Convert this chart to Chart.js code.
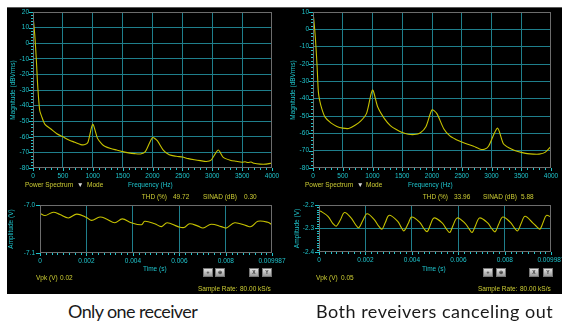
<!DOCTYPE html>
<html>
<head>
<meta charset="utf-8">
<script src="https://cdn.jsdelivr.net/npm/chart.js@4.4.1/dist/chart.umd.min.js"></script>
<style>
  html, body { margin: 0; padding: 0; background: #fff; }
  #page { position: relative; width: 562px; height: 324px; overflow: hidden; background: #fff; }
  #scope { position: absolute; left: 7px; top: 7px; width: 555px; height: 287px; background: #000; border-top: 1px solid #5a5a5a; box-sizing: border-box; }
  canvas { position: absolute; }
  .lbl { position: absolute; font-family: "Liberation Sans", Arial, sans-serif; font-size: 6.5px; line-height: 8px; white-space: nowrap; }
  .r { text-align: right; }
  .y { color: #cccc33; }
  .c { color: #1fc4cc; }
  .w { color: #d8d8d8; }
  .btn { position: absolute; width: 10px; height: 9px; background: linear-gradient(#e4e4e4, #9a9a9a); border: 1px solid #777; box-sizing: border-box;
         font: bold 5px "Liberation Sans", sans-serif; color: #333; text-align: center; line-height: 7px; }
  .cap { position: absolute; top: 300px; font-family: Lato, "Open Sans", sans-serif; font-size: 18px; color: #1a1a1a; white-space: nowrap; }
</style>
</head>
<body>
<div id="page">
  <div id="scope"></div>

  <canvas id="specL" width="275" height="176" style="left:7px;top:7px"></canvas>
  <canvas id="specR" width="275" height="176" style="left:287px;top:7px"></canvas>
  <canvas id="timeL" width="283" height="68" style="left:7px;top:198px"></canvas>
  <canvas id="timeR" width="275" height="68" style="left:287px;top:198px"></canvas>

  <!-- left panel texts -->
  <span class="lbl y" style="left:25px;top:181px">Power Spectrum</span>
  <span class="lbl w" style="left:77px;top:181px">&#9660;</span>
  <span class="lbl y" style="left:87px;top:181px">Mode</span>
  <span class="lbl c" style="left:128px;top:181px">Frequency (Hz)</span>
  <span class="lbl y r" style="left:128px;width:39px;top:193px">THD (%)</span>
  <span class="lbl y" style="left:173px;top:193px">49.72</span>
  <span class="lbl y" style="left:203px;top:193px">SINAD (dB)</span>
  <span class="lbl y" style="left:244px;top:193px">0.30</span>
  <span class="lbl c" style="left:143px;top:265px">Time (s)</span>
  <span class="lbl y" style="left:36px;top:274px">Vpk (V)</span>
  <span class="lbl y" style="left:60px;top:274px">0.02</span>
  <span class="lbl y" style="left:198px;top:285px">Sample Rate:</span>
  <span class="lbl y" style="left:240px;top:285px">80.00 kS/s</span>
  <div class="btn" style="left:203px;top:268px">+</div>
  <div class="btn" style="left:215px;top:268px">&#8853;</div>
  <div class="btn" style="left:249px;top:268px">X</div>
  <div class="btn" style="left:262px;top:268px">Y</div>

  <!-- right panel texts -->
  <span class="lbl y" style="left:305px;top:181px">Power Spectrum</span>
  <span class="lbl w" style="left:357px;top:181px">&#9660;</span>
  <span class="lbl y" style="left:366px;top:181px">Mode</span>
  <span class="lbl c" style="left:408px;top:181px">Frequency (Hz)</span>
  <span class="lbl y r" style="left:409px;width:39px;top:193px">THD (%)</span>
  <span class="lbl y" style="left:454px;top:193px">33.96</span>
  <span class="lbl y" style="left:483px;top:193px">SINAD (dB)</span>
  <span class="lbl y" style="left:521px;top:193px">5.88</span>
  <span class="lbl c" style="left:422px;top:265px">Time (s)</span>
  <span class="lbl y" style="left:316px;top:274px">Vpk (V)</span>
  <span class="lbl y" style="left:341px;top:274px">0.05</span>
  <span class="lbl y" style="left:478px;top:285px">Sample Rate:</span>
  <span class="lbl y" style="left:520px;top:285px">80.00 kS/s</span>
  <div class="btn" style="left:483px;top:268px">+</div>
  <div class="btn" style="left:496px;top:268px">&#8853;</div>
  <div class="btn" style="left:529px;top:268px">X</div>
  <div class="btn" style="left:543px;top:268px">Y</div>

  <span class="cap" style="left:68px;letter-spacing:-0.6px">Only one receiver</span>
  <span class="cap" style="left:316px;letter-spacing:0.5px">Both reveivers canceling out</span>
</div>

<script>
// spectrum, one receiver (Hz, dBVrms)
const freqL = [0, 30, 55, 80, 112, 150, 200, 300, 400, 500, 600, 700, 800, 870, 920, 1000, 1080, 1150, 1200, 1300, 1400, 1500, 1600, 1700, 1800, 1880, 2000, 2080, 2180, 2280, 2400, 2500, 2600, 2700, 2800, 2900, 2980, 3100, 3180, 3300, 3400, 3500, 3550, 3600, 3650, 3700, 3800, 3900, 4000];
const magL = [18, 5, -10, -28, -43, -47.5, -52, -55, -58, -60, -62, -63.5, -65, -65, -63.5, -52, -61, -64.5, -66, -67.5, -68.5, -69.5, -70.3, -70.8, -71, -69.5, -60.5, -62.5, -68.5, -71.5, -72.5, -73, -74, -74.7, -75.3, -75.8, -75, -68.5, -73, -75, -75.7, -76.3, -76, -76.5, -76.2, -77, -77.5, -77.5, -76.8];

// spectrum, both receivers
const freqR = [10, 40, 70, 90, 112, 150, 200, 300, 400, 500, 600, 700, 800, 900, 1000, 1090, 1200, 1300, 1400, 1500, 1600, 1700, 1800, 1900, 2000, 2080, 2200, 2300, 2400, 2500, 2600, 2700, 2800, 2880, 2950, 3100, 3200, 3300, 3400, 3500, 3600, 3700, 3800, 3900, 4000];
const magR = [7, -5, -22, -36, -41, -46, -50.5, -54, -56, -57, -57.2, -55.5, -53, -48.5, -35, -45, -51.5, -55.5, -57.8, -59.5, -60.5, -60.7, -59.8, -56, -46.5, -48.5, -57.5, -61.5, -63.5, -65, -66.3, -67.5, -69, -69.2, -67.5, -57, -66, -68.5, -70, -71, -71.7, -72, -72, -71, -67.5];

// time traces (s, V)
const timeL = [0, 0.000215, 0.000573, 0.000859, 0.00122, 0.00158, 0.00200, 0.00222, 0.00258, 0.00286, 0.00322, 0.00354, 0.00394, 0.00437, 0.00451, 0.00494, 0.00523, 0.00547, 0.00594, 0.00620, 0.00644, 0.00680, 0.00702, 0.00737, 0.00780, 0.00802, 0.00838, 0.00888, 0.00909, 0.00938, 0.00981, 0.00998];
const voltL = [-7.017, -7.022, -7.015, -7.020, -7.027, -7.019, -7.026, -7.032, -7.025, -7.029, -7.037, -7.029, -7.037, -7.041, -7.034, -7.039, -7.045, -7.037, -7.045, -7.047, -7.039, -7.044, -7.048, -7.040, -7.045, -7.048, -7.037, -7.043, -7.045, -7.034, -7.036, -7.041];

const timeR = [0, 0.0001, 0.000385, 0.0006, 0.000741, 0.000912, 0.0011, 0.00138, 0.00157, 0.00171, 0.00188, 0.00207, 0.00238, 0.00257, 0.00271, 0.00285, 0.00302, 0.00338, 0.00355, 0.00366, 0.00384, 0.00399, 0.00433, 0.00452, 0.00466, 0.00480, 0.00495, 0.00530, 0.00549, 0.00563, 0.00577, 0.00595, 0.00630, 0.00647, 0.00659, 0.00674, 0.00691, 0.00726, 0.00744, 0.00758, 0.00773, 0.00791, 0.00823, 0.00841, 0.00855, 0.00870, 0.00887, 0.00920, 0.00937, 0.00951, 0.00965, 0.00979, 0.00998];
const voltR = [-2.225, -2.228, -2.248, -2.279, -2.290, -2.265, -2.232, -2.255, -2.283, -2.297, -2.267, -2.237, -2.262, -2.290, -2.303, -2.276, -2.244, -2.269, -2.297, -2.310, -2.279, -2.251, -2.273, -2.301, -2.313, -2.283, -2.255, -2.276, -2.303, -2.317, -2.287, -2.255, -2.279, -2.303, -2.317, -2.287, -2.255, -2.276, -2.301, -2.314, -2.283, -2.251, -2.273, -2.297, -2.310, -2.279, -2.248, -2.276, -2.292, -2.303, -2.273, -2.244, -2.251];

// tick values
const freqTicks = [0, 500, 1000, 1500, 2000, 2500, 3000, 3500, 4000];
const magTicksL = [-80, -70, -60, -50, -40, -30, -20, -10, 0, 10, 20];
const magTicksR = [-80, -70, -60, -50, -40, -30, -20, -10, 0, 10];
const timeTicks = [0, 0.002, 0.004, 0.006, 0.008, 0.009987];
const timeTickLabels = ['0', '0.002', '0.004', '0.006', '0.008', '0.009987'];
const voltTicksL = [-7.1, -7.0];
const voltTicksR = [-2.4, -2.3, -2.2];

const CYAN = '#1fc4cc';
const GRID = '#1f7f8c';
const FRAME = '#6d6d6d';
const TRACE = '#c6c200';
const FONT = { family: 'Liberation Sans, Arial, sans-serif', size: 6.5 };

// frame around plot + small ruler ticks outside it
const scopeFrame = {
    id: 'scopeFrame',
    afterDraw(chart, args, opts) {
        const { ctx, chartArea: a } = chart;
        const xs = chart.scales.x, ys = chart.scales.y;
        ctx.save();
        ctx.strokeStyle = CYAN;
        ctx.lineWidth = 1;
        ctx.beginPath();
        if (opts.xMinor) {
            const n = Math.round((xs.max - xs.min) / opts.xMinor);
            for (let i = 0; i <= n; i++) {
                const px = Math.round(xs.getPixelForValue(xs.min + i * opts.xMinor)) + 0.5;
                ctx.moveTo(px, a.bottom); ctx.lineTo(px, a.bottom + 2);
            }
        }
        if (opts.yMinor) {
            const n = Math.round((ys.max - ys.min) / opts.yMinor);
            for (let i = 0; i <= n; i++) {
                const py = Math.round(ys.getPixelForValue(ys.min + i * opts.yMinor)) + 0.5;
                ctx.moveTo(a.left - 2, py); ctx.lineTo(a.left, py);
            }
        }
        xs.ticks.forEach(t => {
            const px = Math.round(xs.getPixelForValue(t.value)) + 0.5;
            ctx.moveTo(px, a.bottom); ctx.lineTo(px, a.bottom + 3);
        });
        ys.ticks.forEach(t => {
            const py = Math.round(ys.getPixelForValue(t.value)) + 0.5;
            ctx.moveTo(a.left - 4, py); ctx.lineTo(a.left, py);
        });
        ctx.stroke();
        ctx.strokeStyle = FRAME;
        ctx.strokeRect(a.left + 0.5, a.top + 0.5, a.width - 1, a.height - 1);
        ctx.restore();
    },
};

function scopeChart(id, cfg) {
    const xs = cfg.x.map((v, i) => ({ x: v, y: cfg.y[i] }));
    return new Chart(document.getElementById(id), {
        type: 'line',
        data: {
            datasets: [{
                data: xs,
                borderColor: TRACE,
                borderWidth: 1.1,
                pointRadius: 0,
                tension: cfg.tension,
                fill: false,
            }],
        },
        options: {
            responsive: false,
            animation: false,
            events: [],
            layout: { autoPadding: false, padding: cfg.padding },
            plugins: {
                legend: { display: false },
                tooltip: { enabled: false },
                scopeFrame: { xMinor: cfg.xMinor, yMinor: cfg.yMinor },
            },
            scales: {
                x: {
                    type: 'linear',
                    min: cfg.xMin,
                    max: cfg.xMax,
                    afterBuildTicks: s => { s.ticks = cfg.xTicks.map(v => ({ value: v })); },
                    afterFit: s => { s.height = cfg.xH; s.paddingLeft = 0; s.paddingRight = 0; },
                    grid: {
                        drawTicks: false,
                        color: c => (c.tick && (c.tick.value === cfg.xMin || c.tick.value === cfg.xMax)) ? 'rgba(0,0,0,0)' : GRID,
                    },
                    border: { display: false },
                    ticks: {
                        color: CYAN, font: FONT, padding: cfg.xPad, maxRotation: 0, autoSkip: false,
                        callback: cfg.xLabel,
                    },
                },
                y: {
                    type: 'linear',
                    min: cfg.yMin,
                    max: cfg.yMax,
                    afterBuildTicks: s => { s.ticks = cfg.yTicks.map(v => ({ value: v })); },
                    afterFit: s => { s.width = cfg.yW; s.paddingTop = 0; s.paddingBottom = 0; },
                    grid: {
                        drawTicks: false,
                        color: c => (c.tick && (Math.abs(c.tick.value - cfg.yMin) < 1e-9 || Math.abs(c.tick.value - cfg.yMax) < 1e-9)) ? 'rgba(0,0,0,0)' : GRID,
                    },
                    border: { display: false },
                    title: { display: true, text: cfg.yTitle, color: CYAN, font: FONT, padding: { top: cfg.titlePad, bottom: 0 } },
                    ticks: { color: CYAN, font: FONT, padding: cfg.yPad, autoSkip: false, callback: cfg.yLabel },
                },
            },
        },
        plugins: [scopeFrame],
    });
}

const hzLabel = v => String(v);
const dbLabel = v => String(v);
const tLabel = (v, i) => timeTickLabels[i];
const vLabel = v => v.toFixed(1);

scopeChart('specL', {
    x: freqL, y: magL, tension: 0.25,
    xMin: 0, xMax: 4000, xTicks: freqTicks, xLabel: hzLabel, xMinor: 100, xH: 15, xPad: 4,
    yMin: -80, yMax: 20, yTicks: magTicksL, yLabel: dbLabel, yMinor: 2, yW: 26, yPad: 4,
    yTitle: 'Magnitude (dBVrms)', titlePad: 2,
    padding: { top: 5, right: 10, left: 0, bottom: 0 },
});
scopeChart('specR', {
    x: freqR, y: magR, tension: 0.25,
    xMin: 0, xMax: 4000, xTicks: freqTicks, xLabel: hzLabel, xMinor: 100, xH: 15, xPad: 4,
    yMin: -80, yMax: 10, yTicks: magTicksR, yLabel: dbLabel, yMinor: 2, yW: 26, yPad: 4,
    yTitle: 'Magnitude (dBVrms)', titlePad: 2,
    padding: { top: 5, right: 11, left: 0, bottom: 0 },
});
scopeChart('timeL', {
    x: timeL, y: voltL, tension: 0.35,
    xMin: 0, xMax: 0.009987, xTicks: timeTicks, xLabel: tLabel, xMinor: 0.00025, xH: 13, xPad: 4,
    yMin: -7.1, yMax: -7.0, yTicks: voltTicksL, yLabel: vLabel, yMinor: 0, yW: 33, yPad: 5,
    yTitle: 'Amplitude (V)', titlePad: 0,
    padding: { top: 7, right: 18, left: 0, bottom: 0 },
});
scopeChart('timeR', {
    x: timeR, y: voltR, tension: 0.35,
    xMin: 0, xMax: 0.009987, xTicks: timeTicks, xLabel: tLabel, xMinor: 0.00025, xH: 14, xPad: 4,
    yMin: -2.4, yMax: -2.2, yTicks: voltTicksR, yLabel: vLabel, yMinor: 0.01, yW: 32, yPad: 5,
    yTitle: 'Amplitude (V)', titlePad: 6,
    padding: { top: 7, right: 11, left: 0, bottom: 0 },
});
</script>
</body>
</html>
